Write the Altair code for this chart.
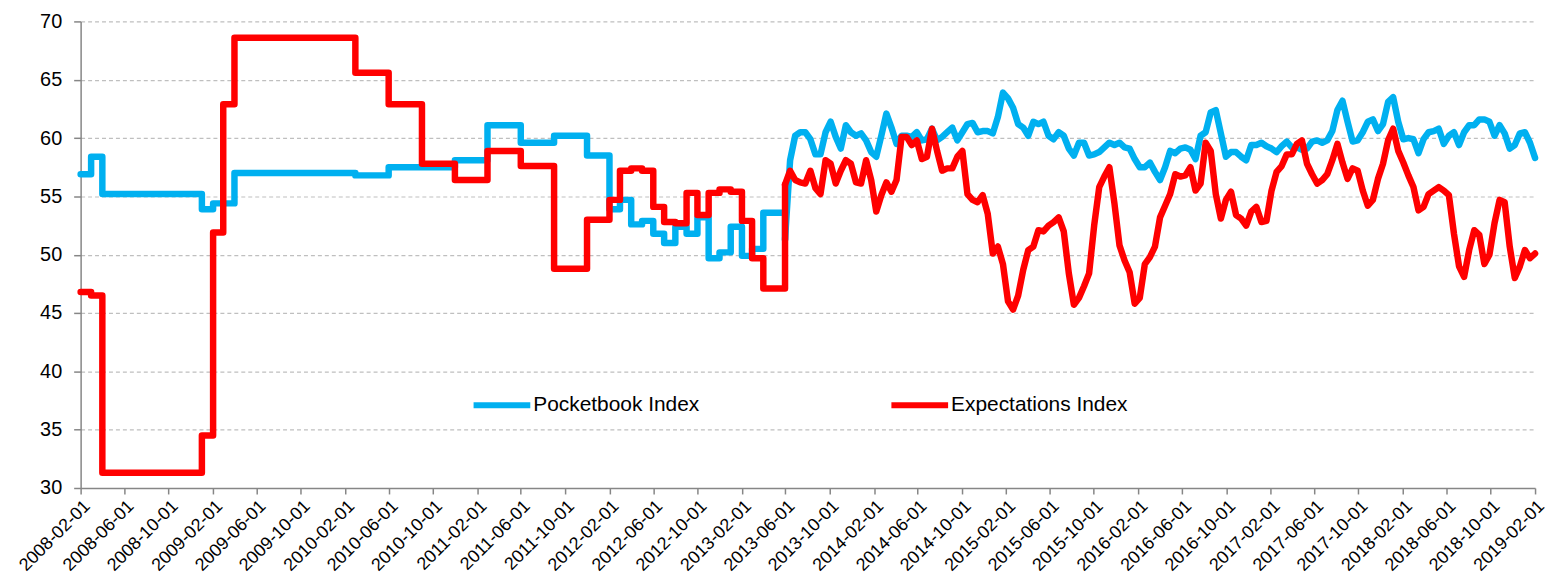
import altair as alt
import pandas as pd

# ---------------- data ----------------
SERIES = ["Pocketbook Index", "Expectations Index"]
COLORS = ["#00B0F0", "#FF0000"]

# Monthly readings, Feb 2008 .. May 2013 (64 months)
MONTHLY_START = "2008-02-01"
POCKET_MONTHLY = [
    56.9, 58.4, 55.2, 55.2, 55.2, 55.2, 55.2, 55.2, 55.2, 55.2, 55.2,   # 2008-02 .. 2008-12
    53.9, 54.4, 54.4, 57.0, 57.0, 57.0, 57.0, 57.0, 57.0, 57.0, 57.0, 57.0,  # 2009
    57.0, 57.0, 56.8, 56.8, 56.8, 57.5, 57.5, 57.5, 57.5, 57.5, 57.5, 58.1,  # 2010
    58.1, 58.1, 61.1, 61.1, 61.1, 59.6, 59.6, 59.6, 60.2, 60.2, 60.2, 58.5,  # 2011
    58.5, 53.9, 54.7, 52.6, 52.9, 51.8, 51.0, 52.4, 51.8, 53.2, 49.7, 50.2,  # 2012
    52.4, 49.9, 50.5, 53.6, 53.6,                                            # 2013-01 .. 05
]
EXPECT_MONTHLY = [
    46.8, 46.5, 31.3, 31.3, 31.3, 31.3, 31.3, 31.3, 31.3, 31.3, 31.3,
    34.5, 51.9, 62.9, 68.6, 68.6, 68.6, 68.6, 68.6, 68.6, 68.6, 68.6, 68.6,
    68.6, 68.6, 65.6, 65.6, 65.6, 62.9, 62.9, 62.9, 57.8, 57.8, 57.8, 56.4,
    56.4, 56.4, 58.9, 58.9, 58.9, 57.6, 57.6, 57.6, 48.8, 48.8, 48.8, 53.0,
    53.0, 54.7, 57.2, 57.4, 57.2, 54.1, 52.8, 52.7, 55.3, 53.4, 55.3, 55.6,
    55.4, 52.9, 49.7, 47.1, 47.1,
]

# Readings every two weeks, 2013-05-31 .. 2019-02-01 (149 points)
WEEKLY_START = "2013-05-31"
POCKET_WEEKLY = [
    51.3, 58.1, 60.2, 60.5, 60.5, 59.9, 58.6, 58.6, 60.5, 61.4,
    60.1, 59.1, 61.1, 60.5, 60.2, 60.4, 59.8, 58.8, 58.4, 60.2,
    62.1, 60.9, 59.5, 60.2, 60.2, 60.1, 60.5, 59.8, 59.9, 60.8,
    59.8, 60.1, 60.5, 60.9, 59.8, 60.5, 61.2, 61.3, 60.5, 60.6,
    60.6, 60.4, 61.8, 63.9, 63.4, 62.6, 61.2, 60.9, 60.2, 61.4,
    61.2, 61.4, 60.2, 59.9, 60.5, 60.2, 59.1, 58.5, 59.6, 59.6,
    58.5, 58.6, 58.8, 59.2, 59.6, 59.4, 59.6, 59.2, 59.1, 58.2,
    57.5, 57.5, 57.9, 57.1, 56.4, 57.5, 58.9, 58.7, 59.1, 59.2,
    59.0, 58.2, 60.2, 60.5, 62.2, 62.4, 60.4, 58.4, 58.8, 58.8,
    58.4, 58.1, 59.4, 59.4, 59.6, 59.3, 59.1, 58.8, 59.3, 59.7,
    59.2, 59.2, 59.0, 59.1, 59.7, 59.8, 59.6, 59.8, 60.6, 62.4,
    63.2, 61.4, 59.7, 59.8, 60.5, 61.4, 61.6, 60.6, 61.2, 63.1,
    63.5, 61.4, 59.9, 60.0, 59.9, 58.7, 59.9, 60.5, 60.6, 60.8,
    59.5, 60.2, 60.5, 59.4, 60.5, 61.1, 61.1, 61.6, 61.6, 61.4,
    60.2, 61.1, 60.4, 59.1, 59.4, 60.4, 60.5, 59.6, 58.3,
]
EXPECT_WEEKLY = [
    56.0, 57.2, 56.4, 56.2, 56.1, 57.2, 55.7, 55.2, 58.1, 57.8,
    56.1, 57.2, 58.1, 57.8, 56.2, 56.1, 58.1, 56.4, 53.7, 55.1,
    56.2, 55.4, 56.4, 60.1, 60.1, 59.4, 59.8, 58.2, 58.4, 60.8,
    58.9, 57.2, 57.4, 57.4, 58.4, 58.9, 55.2, 54.7, 54.5, 55.1,
    53.5, 50.1, 50.7, 49.2, 46.0, 45.3, 46.5, 48.7, 50.4, 50.7,
    52.1, 52.0, 52.5, 52.8, 53.2, 52.0, 48.4, 45.7, 46.3, 47.3,
    48.4, 52.5, 55.8, 56.7, 57.5, 54.4, 50.8, 49.5, 48.5, 45.8,
    46.3, 49.2, 49.8, 50.7, 53.2, 54.2, 55.2, 56.9, 56.7, 56.8,
    57.5, 55.5, 56.1, 59.6, 58.9, 55.2, 53.1, 54.7, 55.4, 53.4,
    53.1, 52.5, 53.7, 54.1, 52.8, 52.9, 55.5, 57.1, 57.6, 58.6,
    58.6, 59.5, 59.8, 57.8, 56.9, 56.1, 56.4, 56.9, 58.1, 59.5,
    57.9, 56.5, 57.4, 57.2, 55.5, 54.2, 54.7, 56.5, 57.8, 59.8,
    60.8, 58.9, 57.9, 56.8, 55.8, 53.8, 54.1, 55.2, 55.5, 55.8,
    55.5, 55.1, 51.8, 49.0, 48.1, 50.4, 52.1, 51.7, 49.2, 50.0,
    52.7, 54.7, 54.5, 50.7, 48.0, 49.0, 50.4, 49.7, 50.1,
]

TICK_DATES = list(pd.date_range("2008-02-01", "2019-02-01", freq="4MS"))
Y_TICKS = [30, 35, 40, 45, 50, 55, 60, 65, 70]

# ---------------- build the table ----------------
rows = []
m_dates = pd.date_range(MONTHLY_START, periods=len(POCKET_MONTHLY), freq="MS")
w_dates = pd.date_range(WEEKLY_START, periods=len(POCKET_WEEKLY), freq="14D")
for name, mvals, wvals in [
    (SERIES[0], POCKET_MONTHLY, POCKET_WEEKLY),
    (SERIES[1], EXPECT_MONTHLY, EXPECT_WEEKLY),
]:
    for d, v in zip(m_dates, mvals):
        rows.append({"date": d.strftime("%Y-%m-%d"), "value": v, "series": name, "part": "monthly"})
    # monthly step segment ends where the bi-weekly series begins
    rows.append({"date": w_dates[0].strftime("%Y-%m-%d"), "value": wvals[0], "series": name, "part": "monthly"})
    for d, v in zip(w_dates, wvals):
        rows.append({"date": d.strftime("%Y-%m-%d"), "value": v, "series": name, "part": "weekly"})
df = pd.DataFrame(rows)


def dt(d):
    return alt.DateTime(year=d.year, month=d.month, date=d.day, utc=True)


x_enc = alt.X(
    "date:T",
    scale=alt.Scale(type="utc", domain=[dt(TICK_DATES[0]), dt(TICK_DATES[-1])]),
    axis=alt.Axis(
        values=[dt(d) for d in TICK_DATES],
        format="%Y-%m-%d",
        labelAngle=-45,
        labelFontSize=18,
        labelOverlap=False,
        labelFlush=False,
        labelBound=False,
        tickSize=6,
        grid=False,
        title=None,
        labelPadding=3,
    ),
)
y_enc = alt.Y(
    "value:Q",
    scale=alt.Scale(domain=[30, 70], nice=False, zero=False),
    axis=alt.Axis(
        values=Y_TICKS,
        labelFontSize=20,
        tickSize=7,
        labelPadding=12,
        grid=True,
        gridColor="#BFBFBF",
        gridDash=[4, 3],
        gridWidth=1.2,
        title=None,
    ),
)
color_enc = alt.Color(
    "series:N",
    scale=alt.Scale(domain=SERIES, range=COLORS),
    legend=alt.Legend(
        orient="none",
        direction="horizontal",
        legendX=392,
        legendY=354,
        title=None,
        symbolType="stroke",
        symbolSize=3249,
        symbolStrokeWidth=6,
        labelFontSize=21,
        labelFont="Liberation Sans",
        labelColor="black",
        labelLimit=0,
        labelOffset=0,
        columnPadding=181,
    ),
)

base = alt.Chart(df).encode(x=x_enc, y=y_enc, color=color_enc)

layers = []
for name in SERIES:
    for part, interp in [("monthly", "step-after"), ("weekly", "linear")]:
        layers.append(
            base.transform_filter(
                (alt.datum.series == name) & (alt.datum.part == part)
            ).mark_line(
                interpolate=interp, strokeWidth=6.5, strokeJoin="round", strokeCap="round"
            )
        )

chart = (
    alt.layer(*layers)
    .properties(
        width=1462,
        height=469,
        autosize=alt.AutoSizeParams(type="none"),
        padding={"left": 73, "top": 12, "right": 10, "bottom": 91},
    )
    .configure_view(stroke=None)
    .configure_axis(
        domainColor="#868686",
        domainWidth=1.5,
        tickColor="#868686",
        tickWidth=1.5,
        labelFont="Liberation Sans",
        labelColor="black",
    )
)

chart.save("out.html", embed_options={"renderer": "svg", "actions": False})
